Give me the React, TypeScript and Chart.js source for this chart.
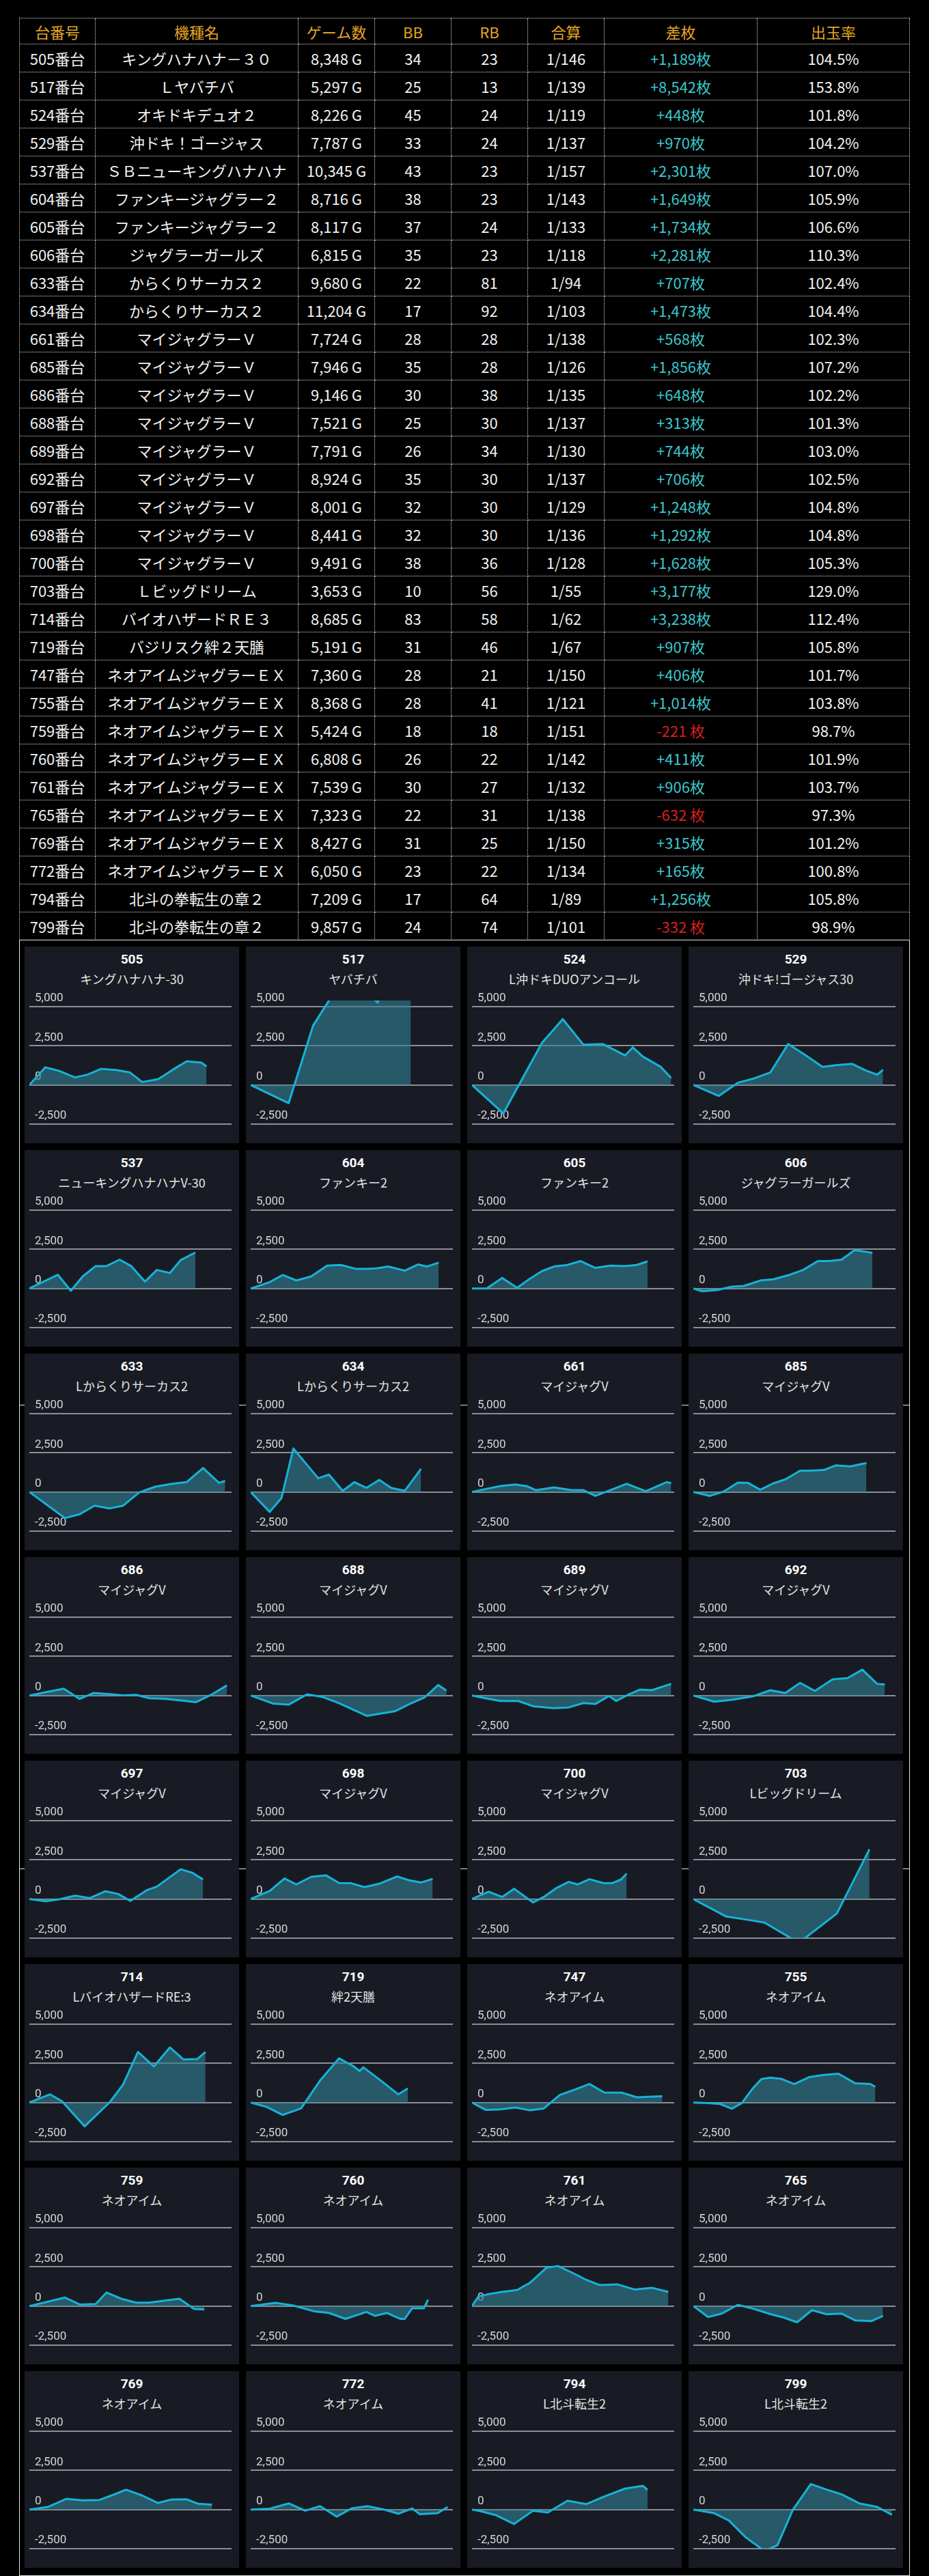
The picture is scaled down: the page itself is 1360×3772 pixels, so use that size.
import React, { useEffect, useRef } from "react";
import { Chart, registerables } from "chart.js";

Chart.register(...registerables);

// ---------- table data ----------
const headers = ["台番号", "機種名", "ゲーム数", "BB", "RB", "合算", "差枚", "出玉率"];
const machineNos = [505, 517, 524, 529, 537, 604, 605, 606, 633, 634, 661, 685, 686, 688, 689, 692, 697, 698, 700, 703, 714, 719, 747, 755, 759, 760, 761, 765, 769, 772, 794, 799];
const machineNames = [
  "キングハナハナ－３０", "Ｌヤバチバ", "オキドキデュオ２", "沖ドキ！ゴージャス", "ＳＢニューキングハナハナ",
  "ファンキージャグラー２", "ファンキージャグラー２", "ジャグラーガールズ", "からくりサーカス２", "からくりサーカス２",
  "マイジャグラーＶ", "マイジャグラーＶ", "マイジャグラーＶ", "マイジャグラーＶ", "マイジャグラーＶ",
  "マイジャグラーＶ", "マイジャグラーＶ", "マイジャグラーＶ", "マイジャグラーＶ", "Ｌビッグドリーム",
  "バイオハザードＲＥ３", "バジリスク絆２天膳", "ネオアイムジャグラーＥＸ", "ネオアイムジャグラーＥＸ", "ネオアイムジャグラーＥＸ",
  "ネオアイムジャグラーＥＸ", "ネオアイムジャグラーＥＸ", "ネオアイムジャグラーＥＸ", "ネオアイムジャグラーＥＸ", "ネオアイムジャグラーＥＸ",
  "北斗の拳転生の章２", "北斗の拳転生の章２",
];
const gameCounts = [8348, 5297, 8226, 7787, 10345, 8716, 8117, 6815, 9680, 11204, 7724, 7946, 9146, 7521, 7791, 8924, 8001, 8441, 9491, 3653, 8685, 5191, 7360, 8368, 5424, 6808, 7539, 7323, 8427, 6050, 7209, 9857];
const bbCounts = [34, 25, 45, 33, 43, 38, 37, 35, 22, 17, 28, 35, 30, 25, 26, 35, 32, 32, 38, 10, 83, 31, 28, 28, 18, 26, 30, 22, 31, 23, 17, 24];
const rbCounts = [23, 13, 24, 24, 23, 23, 24, 23, 81, 92, 28, 28, 38, 30, 34, 30, 30, 30, 36, 56, 58, 46, 21, 41, 18, 22, 27, 31, 25, 22, 64, 74];
const combinedOdds = [146, 139, 119, 137, 157, 143, 133, 118, 94, 103, 138, 126, 135, 137, 130, 137, 129, 136, 128, 55, 62, 67, 150, 121, 151, 142, 132, 138, 150, 134, 89, 101];
const diffCoins = [1189, 8542, 448, 970, 2301, 1649, 1734, 2281, 707, 1473, 568, 1856, 648, 313, 744, 706, 1248, 1292, 1628, 3177, 3238, 907, 406, 1014, -221, 411, 906, -632, 315, 165, 1256, -332];
const payoutRates = ["104.5", "153.8", "101.8", "104.2", "107.0", "105.9", "106.6", "110.3", "102.4", "104.4", "102.3", "107.2", "102.2", "101.3", "103.0", "102.5", "104.8", "104.8", "105.3", "129.0", "112.4", "105.8", "101.7", "103.8", "98.7", "101.9", "103.7", "97.3", "101.2", "100.8", "105.8", "98.9"];

// ---------- mini chart labels ----------
const chartNames = [
  "キングハナハナ-30", "ヤバチバ", "L沖ドキDUOアンコール", "沖ドキ!ゴージャス30",
  "ニューキングハナハナV-30", "ファンキー2", "ファンキー2", "ジャグラーガールズ",
  "Lからくりサーカス2", "Lからくりサーカス2", "マイジャグV", "マイジャグV",
  "マイジャグV", "マイジャグV", "マイジャグV", "マイジャグV",
  "マイジャグV", "マイジャグV", "マイジャグV", "Lビッグドリーム",
  "LバイオハザードRE:3", "絆2天膳", "ネオアイム", "ネオアイム",
  "ネオアイム", "ネオアイム", "ネオアイム", "ネオアイム",
  "ネオアイム", "ネオアイム", "L北斗転生2", "L北斗転生2",
];
const yTickValues = [-2500, 0, 2500, 5000];

// ---------- mini chart series: t = elapsed share of the day (0-100), v = coin difference ----------
const t505 = [0, 7.9, 15.2, 22.5, 28.7, 35.5, 42.8, 49.6, 55.8, 63.7, 71.0, 77.8, 85.1, 87.6];
const v505 = [0, 1130, 880, 485, 660, 1030, 955, 810, 190, 370, 985, 1515, 1425, 1189];
const t517 = [0, 18.8, 30.8, 40.2, 51.9, 62.8, 71.0, 79.2];
const v517 = [0, -1160, 3780, 5700, 6500, 5270, 7500, 8542];
const t524 = [0, 15.5, 34.6, 44.9, 55.1, 64.8, 75.7, 79.5, 84.5, 93.3, 98.5];
const v524 = [0, -1815, 2690, 4210, 2570, 2615, 1890, 2400, 1815, 1160, 448];
const t529 = [0, 12.6, 22.0, 29.3, 38.1, 46.9, 55.7, 63.9, 70.4, 78.6, 85.0, 90.9, 93.8];
const v529 = [0, -700, 145, 390, 800, 2615, 1890, 1160, 1265, 1350, 945, 655, 970];
const t537 = [0, 14.1, 20.5, 26.4, 32.8, 38.1, 44.6, 50.4, 57.2, 63.0, 69.5, 74.8, 82.1];
const v537 = [0, 877, -146, 775, 1433, 1433, 1842, 1433, 439, 1184, 994, 1813, 2301];
const t604 = [0, 9.4, 15.8, 22.6, 29.9, 37.8, 44.6, 51.9, 57.2, 62.2, 68.0, 76.2, 82.7, 87.1, 93.0];
const v604 = [0, 409, 863, 512, 775, 1462, 1506, 1257, 1257, 1287, 1404, 1140, 1535, 1404, 1649];
const t605 = [0, 7.3, 14.9, 22.3, 28.7, 34.6, 40.5, 47.2, 53.7, 61.0, 68.3, 75.7, 81.5, 86.8];
const v605 = [0, 0, 672, 44, 629, 1111, 1404, 1506, 1754, 1316, 1462, 1433, 1506, 1734];
const t606 = [0, 4.4, 11.7, 19.1, 24.9, 33.7, 39.6, 46.9, 54.3, 61.6, 67.4, 73.3, 79.8, 88.6];
const v606 = [0, -175, -102, 117, 161, 526, 585, 848, 1184, 1754, 1754, 1842, 2456, 2281];
const t633 = [0, 17.6, 24.9, 32.3, 39.6, 46.3, 54.3, 62.2, 70.4, 77.7, 85.9, 93.8, 96.8];
const v633 = [0, -1667, -1418, -877, -1053, -877, -29, 336, 526, 629, 1535, 585, 707];
const t634 = [0, 9.4, 15.2, 21.1, 27.0, 33.4, 38.7, 45.5, 51.3, 57.2, 63.6, 69.5, 76.2, 84.2];
const v634 = [0, -1272, -395, 2778, 1871, 877, 1111, 73, 629, 263, 775, 263, 73, 1473];
const t661 = [0, 6.7, 14.1, 21.4, 27.3, 31.7, 40.5, 49.3, 55.1, 61.0, 68.3, 76.5, 85.9, 96.2, 98.5];
const v661 = [0, 190, 380, 482, 366, 117, 292, 117, 117, -249, 117, 526, 44, 629, 568];
const t685 = [0, 8.2, 15.2, 22.0, 27.0, 33.1, 39.6, 45.5, 52.8, 57.2, 64.5, 70.4, 77.7, 85.6];
const v685 = [0, -249, 44, 599, 585, 146, 555, 804, 1360, 1360, 1404, 1696, 1637, 1856];
const t686 = [0, 8.2, 17.0, 24.9, 31.7, 39.0, 46.3, 52.8, 59.5, 66.9, 75.1, 82.4, 90.3, 97.7];
const v686 = [0, 219, 439, -219, 161, 102, 15, 44, -175, -205, -322, -424, 73, 648];
const t688 = [0, 10.9, 18.8, 27.9, 35.8, 44.0, 57.5, 71.3, 78.6, 85.9, 92.7, 96.8];
const v688 = [0, -512, -585, 73, -102, -512, -1301, -1009, -541, -132, 672, 313];
const t689 = [0, 6.7, 14.1, 22.9, 30.2, 40.5, 47.8, 55.1, 61.0, 67.7, 71.3, 77.1, 83.0, 88.9, 98.5];
const v689 = [0, -175, -351, -351, -687, -804, -760, -482, -541, -29, -351, 44, 380, 336, 744];
const t692 = [0, 10.3, 19.1, 29.3, 38.1, 45.5, 52.8, 60.1, 68.9, 76.2, 83.6, 90.9, 94.7];
const v692 = [0, -395, -278, -58, 336, 161, 804, 292, 1038, 1111, 1652, 746, 706];
const t697 = [0, 8.2, 15.5, 22.6, 29.9, 37.5, 44.0, 49.9, 58.1, 63.0, 68.9, 74.8, 80.6, 85.9];
const v697 = [0, -146, 0, 219, 58, 497, 322, -117, 570, 789, 1345, 1901, 1681, 1248];
const t698 = [0, 9.4, 16.7, 22.6, 29.9, 37.2, 43.7, 49.6, 56.3, 63.6, 72.4, 78.3, 84.2, 90.0];
const v698 = [0, 512, 1316, 936, 1418, 1520, 1023, 1009, 760, 980, 1447, 1199, 1053, 1292];
const t700 = [0, 8.2, 14.9, 20.8, 30.2, 35.5, 41.9, 47.8, 52.2, 58.1, 64.8, 69.2, 73.6, 76.5];
const v700 = [0, 468, 132, 658, -219, 132, 716, 1096, 936, 1272, 1023, 1009, 1243, 1628];
const t703 = [0, 16.1, 26.4, 35.2, 52.2, 71.0, 87.1];
const v703 = [0, -1111, -1316, -1506, -2800, -921, 3177];
const t714 = [0, 10.3, 16.1, 27.3, 39.6, 46.3, 53.7, 61.6, 69.5, 76.2, 83.0, 87.1];
const v714 = [0, 526, 88, -1520, 0, 1140, 3231, 2310, 3523, 2749, 2778, 3238];
const t719 = [0, 7.9, 15.8, 24.9, 34.3, 43.7, 50.4, 53.9, 55.7, 63.6, 73.0, 77.7];
const v719 = [0, -278, -789, -380, 1404, 2822, 2354, 2018, 2251, 1477, 526, 907];
const t747 = [0, 6.7, 14.1, 21.4, 28.7, 35.5, 43.4, 50.7, 58.1, 65.4, 74.2, 81.5, 87.4, 94.1];
const v747 = [0, -468, -439, -322, -497, -380, 482, 819, 1184, 643, 629, 336, 365, 406];
const t755 = [0, 7.3, 13.2, 19.1, 24.0, 29.3, 33.7, 38.1, 43.4, 49.9, 57.2, 64.5, 71.8, 80.1, 87.4, 90.0];
const v755 = [0, -29, -88, -395, -29, 892, 1506, 1594, 1520, 1184, 1623, 1769, 1842, 1228, 1184, 1014];
const t759 = [0, 17.6, 24.9, 32.8, 38.1, 45.5, 52.8, 59.2, 66.9, 74.2, 81.5, 86.5];
const v759 = [0, 541, 102, 132, 863, 468, 219, 219, 351, 468, -190, -221];
const t760 = [0, 12.3, 21.1, 31.4, 38.7, 46.9, 57.2, 61.6, 67.4, 73.9, 76.2, 79.8, 85.6, 87.7];
const v760 = [0, 205, 29, -336, -439, -819, -380, -629, -439, -819, -819, -146, -146, 411];
const t761 = [0, 3.2, 8.2, 14.9, 22.3, 28.7, 36.7, 42.5, 49.3, 56.0, 63.0, 71.8, 80.6, 88.9, 97.1];
const v761 = [0, 614, 760, 906, 1023, 1491, 2442, 2558, 2149, 1711, 1345, 1389, 1053, 1170, 906];
const t765 = [0, 7.3, 14.1, 22.0, 29.3, 38.1, 44.6, 51.3, 58.7, 66.0, 73.3, 80.1, 88.0, 93.8];
const v765 = [0, -702, -482, 73, -161, -512, -731, -1038, -263, -526, -482, -921, -965, -632];
const t769 = [0, 9.4, 18.2, 26.4, 34.6, 41.6, 47.8, 55.7, 63.6, 70.4, 77.7, 83.6, 90.3];
const v769 = [0, 175, 685, 583, 612, 948, 1268, 904, 423, 642, 656, 365, 315];
const t772 = [0, 9.4, 18.8, 27.0, 34.3, 42.5, 49.9, 57.8, 66.0, 73.0, 79.8, 83.6, 92.4, 97.4];
const v772 = [0, 58, 394, -73, 219, -452, 73, 219, 0, -262, 73, -292, -233, 165];
const t794 = [0, 3.8, 12.0, 20.8, 30.2, 37.5, 47.2, 56.6, 65.4, 75.7, 84.5, 86.8];
const v794 = [0, -87, -365, -919, -73, -190, 569, 350, 831, 1341, 1516, 1256];
const t799 = [0, 10.3, 17.6, 25.8, 35.2, 41.6, 49.3, 58.1, 66.0, 73.3, 82.1, 90.9, 98.2];
const v799 = [0, -233, -700, -1764, -2650, -2274, 0, 1633, 1268, 977, 394, 175, -332];

const seriesT = [t505, t517, t524, t529, t537, t604, t605, t606, t633, t634, t661, t685, t686, t688, t689, t692, t697, t698, t700, t703, t714, t719, t747, t755, t759, t760, t761, t765, t769, t772, t794, t799];
const seriesV = [v505, v517, v524, v529, v537, v604, v605, v606, v633, v634, v661, v685, v686, v688, v689, v692, v697, v698, v700, v703, v714, v719, v747, v755, v759, v760, v761, v765, v769, v772, v794, v799];

// ---------- helpers / styles ----------
const withCommas = (n: number) => String(n).replace(/\B(?=(\d{3})+(?!\d))/g, ",");
const JP = "'Noto Sans CJK JP', 'Noto Sans', sans-serif";
const SANS = "Roboto, 'Noto Sans CJK JP', sans-serif";
const colWidths = [111, 297, 112, 112, 112, 112, 224, 223];
const BORDER = "1px dotted #d8d8d8";

function MiniChart({ t, v }: { t: number[]; v: number[] }) {
  const ref = useRef<HTMLCanvasElement>(null);
  useEffect(() => {
    if (!ref.current) return;
    const chart = new Chart(ref.current, {
      type: "line",
      data: {
        datasets: [
          {
            data: t.map((x, i) => ({ x, y: v[i] })),
            borderColor: "#17b2d6",
            borderWidth: 3,
            borderJoinStyle: "round",
            backgroundColor: "rgba(48,128,148,0.62)",
            fill: "origin",
            pointRadius: 0,
            tension: 0,
          },
        ],
      },
      options: {
        animation: false,
        responsive: false,
        maintainAspectRatio: false,
        events: [],
        layout: { padding: { left: 7, right: 11, top: 19, bottom: 28 } },
        plugins: { legend: { display: false }, tooltip: { enabled: false }, title: { display: false } },
        scales: {
          x: { type: "linear", min: 0, max: 100, display: false },
          y: {
            type: "linear",
            min: -2500,
            max: 5400,
            afterFit: (s: any) => {
              s.width = 0;
            },
            afterBuildTicks: (s: any) => {
              s.ticks = yTickValues.map((value) => ({ value }));
            },
            border: { display: false },
            grid: { color: "#8b8e95", lineWidth: 2, drawTicks: false },
            ticks: {
              stepSize: 2500,
              includeBounds: false,
              mirror: true,
              labelOffset: -12,
              padding: 8,
              color: "#d6d6d6",
              font: { size: 17, family: SANS },
              callback: (val: any) => (Number(val) < 0 ? "-" : "") + withCommas(Math.abs(Number(val))),
            },
          },
        },
      } as any,
    });
    return () => chart.destroy();
  }, [t, v]);
  return <canvas ref={ref} width={314} height={228} style={{ position: "absolute", left: 0, top: 60, width: 314, height: 228 }} />;
}

function Card({ idx }: { idx: number }) {
  const col = idx % 4;
  const row = Math.floor(idx / 4);
  return (
    <div
      style={{
        position: "absolute",
        left: 7 + col * 324,
        top: 9 + row * 298,
        width: 314,
        height: 288,
        background: "#181b23",
        zIndex: 1,
      }}
    >
      <div style={{ position: "absolute", left: 0, top: 7, width: 314, height: 24, lineHeight: "24px", textAlign: "center", color: "#fff", fontFamily: SANS, fontWeight: 700, fontSize: 19 }}>
        {machineNos[idx]}
      </div>
      <div style={{ position: "absolute", left: 0, top: 34, width: 314, height: 26, lineHeight: "26px", textAlign: "center", color: "#e4e4e4", fontFamily: JP, fontSize: 18 }}>
        {chartNames[idx]}
      </div>
      <MiniChart t={seriesT[idx]} v={seriesV[idx]} />
    </div>
  );
}

function Cell({ w, h, color, children }: { w: number; h: number; color: string; children: React.ReactNode }) {
  return (
    <div
      style={{
        boxSizing: "border-box",
        width: w,
        height: h,
        borderRight: BORDER,
        borderBottom: BORDER,
        display: "flex",
        alignItems: "center",
        justifyContent: "center",
        color,
        whiteSpace: "nowrap",
        overflow: "hidden",
      }}
    >
      {children}
    </div>
  );
}

export default function App() {
  useEffect(() => {
    document.body.style.margin = "0";
    document.body.style.background = "#000";
  }, []);

  const rows = machineNos.map((no, i) => {
    const d = diffCoins[i];
    const diffText = d >= 0 ? `+${withCommas(d)}枚` : `-${withCommas(-d)} 枚`;
    const cells = [
      `${no}番台`,
      machineNames[i],
      `${withCommas(gameCounts[i])} G`,
      String(bbCounts[i]),
      String(rbCounts[i]),
      `1/${combinedOdds[i]}`,
      diffText,
      `${payoutRates[i]}%`,
    ];
    return (
      <div key={no} style={{ display: "flex" }}>
        {cells.map((c, j) => (
          <Cell key={j} w={colWidths[j]} h={41} color={j === 6 ? (d >= 0 ? "#3cc6cc" : "#d81e1e") : "#f2f2f2"}>
            {c}
          </Cell>
        ))}
      </div>
    );
  });

  return (
    <div style={{ position: "absolute", left: 0, top: 0, width: 1360, height: 3772, background: "#000", overflow: "hidden" }}>
      {/* table */}
      <div
        style={{
          position: "absolute",
          left: 28,
          top: 26,
          borderLeft: BORDER,
          borderTop: BORDER,
          fontFamily: JP,
          fontSize: 22,
        }}
      >
        <div style={{ display: "flex" }}>
          {headers.map((h, j) => (
            <Cell key={h} w={colWidths[j]} h={38} color="#e3a622">
              {h}
            </Cell>
          ))}
        </div>
        {rows}
      </div>

      {/* chart section */}
      <div
        style={{
          position: "absolute",
          left: 28,
          top: 1376,
          width: 1304,
          height: 2396,
          boxSizing: "border-box",
          border: "1px solid #e6e6e6",
        }}
      >
        <div style={{ position: "absolute", left: 0, top: 680, width: 1302, height: 1, background: "#e6e6e6", zIndex: 0 }} />
        <div style={{ position: "absolute", left: 0, top: 1359, width: 1302, height: 1, background: "#e6e6e6", zIndex: 0 }} />
        {machineNos.map((_, i) => (
          <Card key={i} idx={i} />
        ))}
      </div>
    </div>
  );
}
